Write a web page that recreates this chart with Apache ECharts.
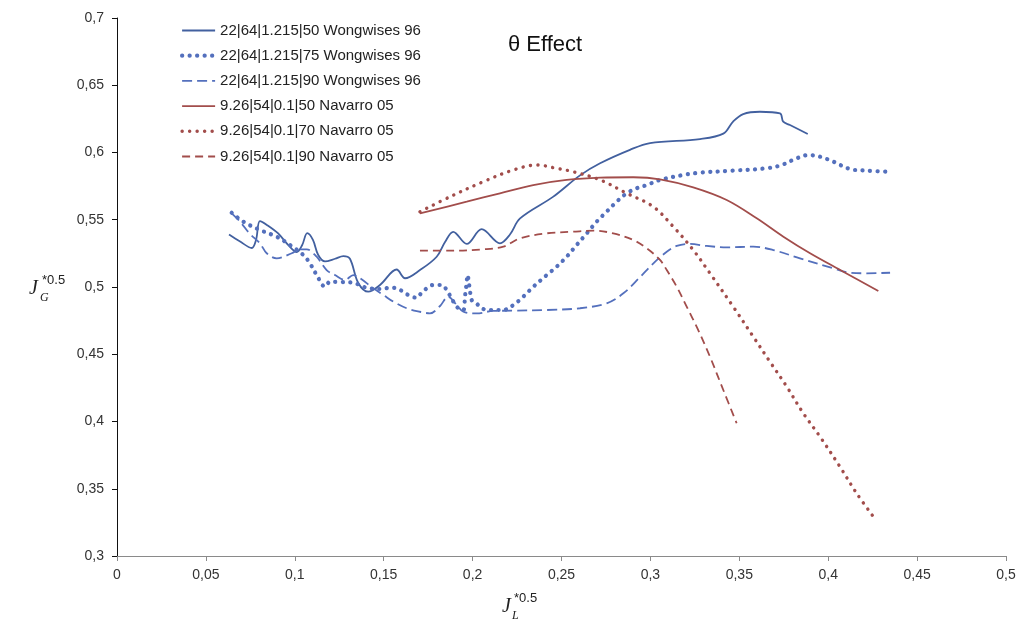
<!DOCTYPE html>
<html>
<head>
<meta charset="utf-8">
<title>θ Effect</title>
<script src="https://cdn.jsdelivr.net/npm/echarts@6/dist/echarts.min.js"></script>
<style>
  html, body { margin: 0; padding: 0; background: #fff; }
  #chart { width: 1026px; height: 624px; }
</style>
</head>
<body>
<div id="chart"></div>
<script>
// Series legend labels
const seriesNames = [
  '22|64|1.215|50 Wongwises 96',
  '22|64|1.215|75 Wongwises 96',
  '22|64|1.215|90 Wongwises 96',
  '9.26|54|0.1|50 Navarro 05',
  '9.26|54|0.1|70 Navarro 05',
  '9.26|54|0.1|90 Navarro 05'
];

// [J_L*^0.5, J_G*^0.5] pairs
const wong50 = [
  [0.063, 0.539], [0.069, 0.534], [0.0758, 0.529], [0.0782, 0.535], [0.0804, 0.549],
  [0.0845, 0.546], [0.0905, 0.540], [0.0965, 0.531], [0.1011, 0.526], [0.1041, 0.531], [0.107, 0.540],
  [0.1102, 0.535], [0.1131, 0.524], [0.117, 0.519], [0.1226, 0.521], [0.1273, 0.523],
  [0.131, 0.521], [0.1357, 0.503], [0.1413, 0.4965], [0.1479, 0.5015], [0.1573, 0.513],
  [0.162, 0.5065], [0.1704, 0.5126], [0.1798, 0.5225], [0.1845, 0.5335], [0.1891, 0.541],
  [0.1967, 0.532], [0.2051, 0.543], [0.2154, 0.5325], [0.221, 0.539], [0.2267, 0.551],
  [0.2452, 0.567], [0.2604, 0.583], [0.2717, 0.592], [0.2885, 0.602], [0.2998, 0.607],
  [0.3279, 0.610], [0.341, 0.614], [0.3465, 0.623], [0.3522, 0.6286], [0.3616, 0.6303],
  [0.3729, 0.6291], [0.3747, 0.6229], [0.3785, 0.6204], [0.3885, 0.6138]
];
const wong75 = [
  [0.0645, 0.5552], [0.071, 0.5486], [0.0804, 0.5424], [0.0898, 0.5374], [0.0973, 0.5312],
  [0.1048, 0.5238], [0.1085, 0.5176], [0.1123, 0.5089], [0.117, 0.5002], [0.1198, 0.5039],
  [0.1254, 0.5037], [0.1329, 0.5032], [0.1385, 0.5002], [0.1423, 0.499], [0.1489, 0.4985],
  [0.1535, 0.4995], [0.1573, 0.499], [0.1638, 0.4941], [0.1686, 0.492], [0.1714, 0.4958],
  [0.1779, 0.5015], [0.1826, 0.5015], [0.1854, 0.4978], [0.1892, 0.4891], [0.192, 0.4842],
  [0.1948, 0.4829], [0.1957, 0.4928], [0.1967, 0.5039], [0.197, 0.5089], [0.1995, 0.4903],
  [0.2013, 0.4891], [0.2051, 0.4842], [0.2098, 0.4829], [0.2173, 0.4829], [0.2229, 0.4866],
  [0.2285, 0.4928], [0.2342, 0.5002], [0.2417, 0.5089], [0.2473, 0.5151], [0.2529, 0.5225],
  [0.2585, 0.5312], [0.2642, 0.5399], [0.2698, 0.5486], [0.2754, 0.556], [0.281, 0.5634],
  [0.2867, 0.5697], [0.2923, 0.5734], [0.2979, 0.5758], [0.3054, 0.5796], [0.3185, 0.5833],
  [0.3279, 0.585], [0.3466, 0.5865], [0.3654, 0.5883], [0.3738, 0.5907], [0.3823, 0.5957],
  [0.3888, 0.5981], [0.3954, 0.5969], [0.4029, 0.5932], [0.4123, 0.5877], [0.4216, 0.5865],
  [0.4338, 0.5857]
];
const wong90 = [
  [0.0645, 0.5548], [0.0692, 0.5486], [0.0748, 0.5394], [0.0804, 0.5325], [0.0842, 0.5251],
  [0.0898, 0.5213], [0.0983, 0.5251], [0.1029, 0.528], [0.1067, 0.528], [0.1123, 0.5225],
  [0.1179, 0.5126], [0.1226, 0.5089], [0.1282, 0.5052], [0.1329, 0.5089], [0.1367, 0.5065],
  [0.1442, 0.499], [0.1498, 0.4941], [0.1554, 0.4891], [0.1629, 0.4842], [0.1704, 0.4816],
  [0.176, 0.4804], [0.1817, 0.4859], [0.1862, 0.4928], [0.1911, 0.4866], [0.1948, 0.4816],
  [0.2023, 0.4804], [0.2115, 0.4822], [0.2229, 0.4824], [0.2417, 0.4829], [0.2604, 0.4842],
  [0.2754, 0.4879], [0.2848, 0.4953], [0.2942, 0.5074], [0.3017, 0.5176], [0.3092, 0.5262],
  [0.3148, 0.5305], [0.3223, 0.532], [0.3317, 0.5305], [0.3429, 0.5295], [0.3579, 0.53],
  [0.3691, 0.5275], [0.3841, 0.5213], [0.4029, 0.5139], [0.4123, 0.5106], [0.4216, 0.5102],
  [0.4348, 0.5106]
];
const nav50 = [
  [0.1704, 0.5548], [0.1967, 0.5634], [0.2154, 0.5697], [0.2341, 0.5758], [0.2529, 0.5796],
  [0.2717, 0.5813], [0.2904, 0.5816], [0.3054, 0.5801], [0.3241, 0.5741], [0.3429, 0.5647],
  [0.3598, 0.5511], [0.3748, 0.5374], [0.3898, 0.5251], [0.4085, 0.5114], [0.4282, 0.497]
];
const nav70 = [
  [0.1704, 0.556], [0.1873, 0.5671], [0.206, 0.5783], [0.2229, 0.587], [0.2361, 0.5907],
  [0.2473, 0.5882], [0.2566, 0.5857], [0.2717, 0.5796], [0.2867, 0.5697], [0.3016, 0.5597],
  [0.3129, 0.5448], [0.3241, 0.5275], [0.3335, 0.5102], [0.3466, 0.4853], [0.3579, 0.463],
  [0.3672, 0.4445], [0.3767, 0.4259], [0.386, 0.4061], [0.3954, 0.3887], [0.4066, 0.3664],
  [0.416, 0.3466], [0.4254, 0.3292]
];
const nav90 = [
  [0.1704, 0.527], [0.1873, 0.527], [0.206, 0.528], [0.2173, 0.53], [0.2267, 0.5362],
  [0.2417, 0.5399], [0.2566, 0.5411], [0.2679, 0.5419], [0.2791, 0.5399], [0.2904, 0.5349],
  [0.2979, 0.5288], [0.3054, 0.5201], [0.3092, 0.5126], [0.3148, 0.5002], [0.3204, 0.4854],
  [0.3269, 0.468], [0.3335, 0.4482], [0.341, 0.4234], [0.3485, 0.3987]
];

const BLUE_DARK = '#42609f';
const BLUE = '#5470bd';
const RED = '#a24d4b';

const dots = (w) => ({ type: [0.1, 7.4], cap: 'round', width: w });

const lineStyles = [
  { color: BLUE_DARK, width: 1.8 },
  Object.assign({ color: BLUE }, dots(4.2)),
  { color: BLUE, width: 1.8, type: [10, 5] },
  { color: RED, width: 1.8 },
  Object.assign({ color: RED }, dots(3.4)),
  { color: RED, width: 1.8, type: [8, 5] }
];
const seriesData = [wong50, wong75, wong90, nav50, nav70, nav90];

const fmt = (v) => String(+Number(v).toFixed(2)).replace('.', ',');

const chart = echarts.init(document.getElementById('chart'), null, { renderer: 'canvas' });

chart.setOption({
  backgroundColor: '#ffffff',
  animation: false,
  title: {
    text: 'θ Effect',
    left: 508,
    top: 34,
    padding: 0,
    textStyle: { fontFamily: 'Liberation Sans', fontSize: 22, fontWeight: 'normal', color: '#111' }
  },
  legend: {
    orient: 'vertical',
    left: 180,
    top: 23,
    padding: 0,
    itemWidth: 33,
    itemHeight: 14,
    itemGap: 10.2,
    // keep only the line sample in each legend key
    itemStyle: { color: 'rgba(0,0,0,0)', borderColor: 'rgba(0,0,0,0)', borderWidth: 0, opacity: 0 },
    textStyle: { fontFamily: 'Liberation Sans', fontSize: 15, color: '#222' },
    data: seriesNames.map((n, i) => ({
      name: n,
      lineStyle: { width: lineStyles[i].width }
    }))
  },
  grid: { left: 117, right: 20, top: 18, bottom: 68, containLabel: false },
  xAxis: {
    type: 'value',
    min: 0,
    max: 0.5,
    interval: 0.05,
    splitLine: { show: false },
    axisLine: { show: true, onZero: false, lineStyle: { color: '#8a8a8a', width: 1 } },
    axisTick: { show: true, inside: false, length: 5, lineStyle: { color: '#8a8a8a' } },
    axisLabel: {
      margin: 12,
      fontFamily: 'Liberation Sans',
      fontSize: 14,
      color: '#333',
      formatter: fmt
    }
  },
  yAxis: {
    type: 'value',
    min: 0.3,
    max: 0.7,
    interval: 0.05,
    splitLine: { show: false },
    axisLine: { show: true, onZero: false, lineStyle: { color: '#111', width: 1 } },
    axisTick: { show: true, inside: false, length: 5, lineStyle: { color: '#111' } },
    axisLabel: {
      margin: 13,
      fontFamily: 'Liberation Sans',
      fontSize: 14,
      color: '#333',
      formatter: fmt
    }
  },
  series: seriesData.map((d, i) => ({
    name: seriesNames[i],
    type: 'line',
    data: d,
    smooth: 0.35,
    symbol: 'none',
    showSymbol: false,
    color: lineStyles[i].color,
    lineStyle: lineStyles[i],
    emphasis: { disabled: true }
  })),
  graphic: [
    // y-axis name: J_G^{*0.5}
    { type: 'text', left: 29, top: 279, style: { text: 'J', font: 'italic 20px "Liberation Serif"', fill: '#222' } },
    { type: 'text', left: 42, top: 274, style: { text: '*0.5', font: '13px "Liberation Sans"', fill: '#222' } },
    { type: 'text', left: 40, top: 292, style: { text: 'G', font: 'italic 12px "Liberation Serif"', fill: '#222' } },
    // x-axis name: J_L^{*0.5}
    { type: 'text', left: 502, top: 597, style: { text: 'J', font: 'italic 20px "Liberation Serif"', fill: '#222' } },
    { type: 'text', left: 514, top: 592, style: { text: '*0.5', font: '13px "Liberation Sans"', fill: '#222' } },
    { type: 'text', left: 512, top: 610, style: { text: 'L', font: 'italic 12px "Liberation Serif"', fill: '#222' } }
  ]
});
</script>
</body>
</html>
